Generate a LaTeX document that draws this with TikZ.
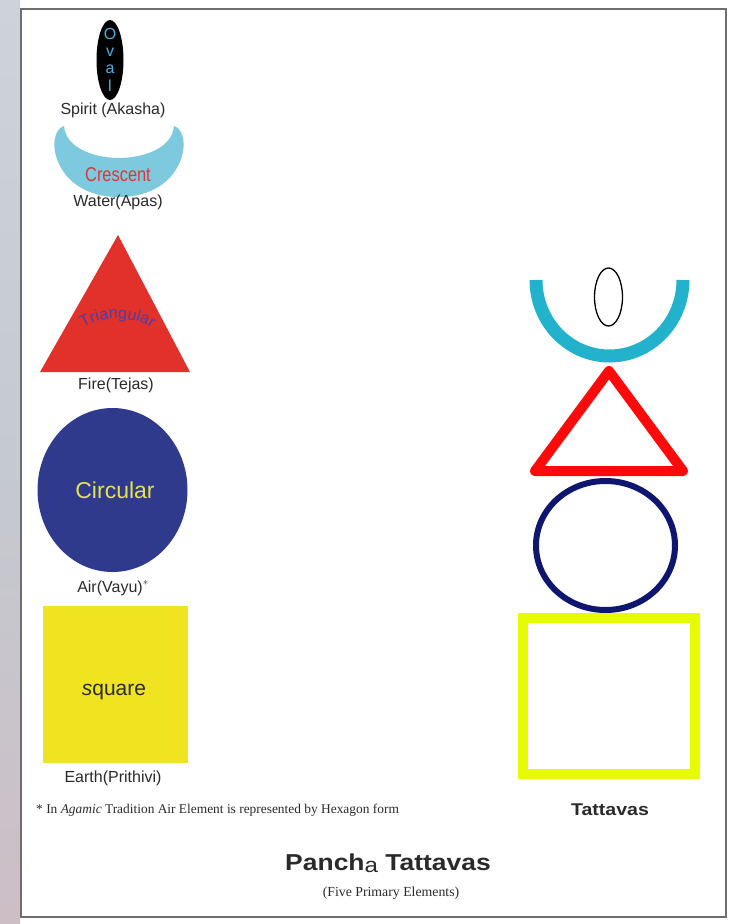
\documentclass[tikz,border=0pt]{standalone}
\usepackage{fontspec}
\setmainfont{Liberation Sans}
\newfontfamily\serfont{Liberation Serif}
\usetikzlibrary{decorations.text}
\definecolor{labgray}{HTML}{2A2A2A}
\definecolor{crescblue}{HTML}{7DC9DD}
\definecolor{ovaltext}{HTML}{49B0E0}
\definecolor{cresctext}{HTML}{D9383A}
\definecolor{trired}{HTML}{E2302A}
\definecolor{tritext}{HTML}{4B3FA6}
\definecolor{circblue}{HTML}{2F3A8C}
\definecolor{circtext}{HTML}{E6E34A}
\definecolor{sqyellow}{HTML}{F0E421}
\definecolor{arccyan}{HTML}{22B2CB}
\definecolor{rtred}{HTML}{FF0A0A}
\definecolor{rtnavy}{HTML}{0E1670}
\definecolor{rtlime}{HTML}{E6FA00}
\definecolor{framegray}{HTML}{6E6E6E}
\begin{document}
\begin{tikzpicture}[x=1pt,y=-1pt,
  lab/.style={font=\fontsize{16}{18}\selectfont, text=labgray, inner sep=0pt},
  inlab/.style={inner sep=0pt},
  ovl/.style={inlab, text=ovaltext, font=\fontsize{16}{16}\selectfont}]
\useasboundingbox (0,0) rectangle (734,924);
\fill[white] (0,0) rectangle (734,924);
% blurred background strip on the left
\shade[top color={rgb,255:red,205;green,211;blue,216}, bottom color={rgb,255:red,196;green,202;blue,208}] (0,0) rectangle (20,460);
\shade[top color={rgb,255:red,196;green,202;blue,208}, middle color={rgb,255:red,178;green,134;blue,150}, bottom color={rgb,255:red,205;green,190;blue,198}] (0,460) rectangle (20,924);
% frame
\draw[framegray, line width=1.5] (21,9) rectangle (726,917);

% ---------- left column ----------
% Spirit: oval
\fill[black] (110,60) ellipse [x radius=13.5, y radius=40];
\node[ovl] (o1) at (110,34) {O};
\node[ovl] (o2) at (110,52) {v};
\node[ovl] (o3) at (110,69) {a};
\node[ovl] (o4) at (110,86) {l};
\node[lab] (spirit) at (113,110) {Spirit (Akasha)};

% Water: crescent
\fill[crescblue] (64,126) .. controls (44,132) and (52,197) .. (119,197)
  .. controls (186,197) and (194,132) .. (174,126)
  .. controls (172,150) and (140,158) .. (119,158)
  .. controls (98,158) and (66,150) .. (64,126) -- cycle;
\node[inlab, text=cresctext] (cresc) at (118,175) {\scalebox{0.82}[1]{\fontsize{20}{20}\selectfont Crescent}};
\node[lab] (water) at (118,202) {Water(Apas)};

% Fire: triangle
\fill[trired] (118,235) -- (190,372) -- (40,372) -- cycle;
\path[decorate, decoration={text along path, text align=center,
  text={|\fontsize{16}{16}\selectfont\color{tritext}|Triangular}}]
  (78,332) .. controls (100,314) and (135,314) .. (157,332);
\node[lab] (fire) at (116,385) {Fire(Tejas)};

% Air: circle
\fill[circblue] (112.5,490) ellipse [x radius=75, y radius=82];
\node[inlab, text=circtext, font=\fontsize{23}{23}\selectfont] (circ) at (115,490) {Circular};
\node[lab] (air) at (113,588) {Air(Vayu)$^{\ast}$};

% Earth: square
\fill[sqyellow] (43,606) rectangle (188,763);
\node[inlab, text=labgray, font=\fontsize{21}{21}\selectfont] (sq) at (114,692) {\textit{s}quare};
\node[lab] (earth) at (113,778) {Earth(Prithivi)};

% footnote
\node[inlab, anchor=west, text=labgray, font=\serfont\fontsize{13.4}{15}\selectfont] (note) at (36,810)
  {* In \textit{Agamic} Tradition Air Element is represented by Hexagon form};

% ---------- right column: Tattavas ----------
\draw[black, line width=1.3] (608.5,297) ellipse [x radius=14, y radius=29];
\draw[arccyan, line width=13] (536,280) arc[start angle=180, end angle=0, x radius=73.5, y radius=76];
\draw[rtred, line width=10, line join=round] (609,371) -- (683,471) -- (535,471) -- cycle;
\draw[rtnavy, line width=6] (605.5,545.5) ellipse [x radius=69.5, y radius=64.5];
\draw[rtlime, line width=10] (523,618) rectangle (695,774);
\node[inlab, text=labgray] (tatt) at (610,810) {\scalebox{1.15}[1]{\fontsize{17}{17}\selectfont\bfseries Tattavas}};

% ---------- title ----------
\node[inlab, text=labgray] (title) at (388,863)
  {\scalebox{1.15}[1]{\fontsize{23}{23}\selectfont\bfseries Panch\raisebox{-2pt}{\fontsize{21}{21}\selectfont\mdseries a} Tattavas}};
\node[inlab, text=labgray, font=\serfont\fontsize{13.8}{15}\selectfont] (sub) at (391,893) {(Five Primary Elements)};
\end{tikzpicture}
\end{document}
